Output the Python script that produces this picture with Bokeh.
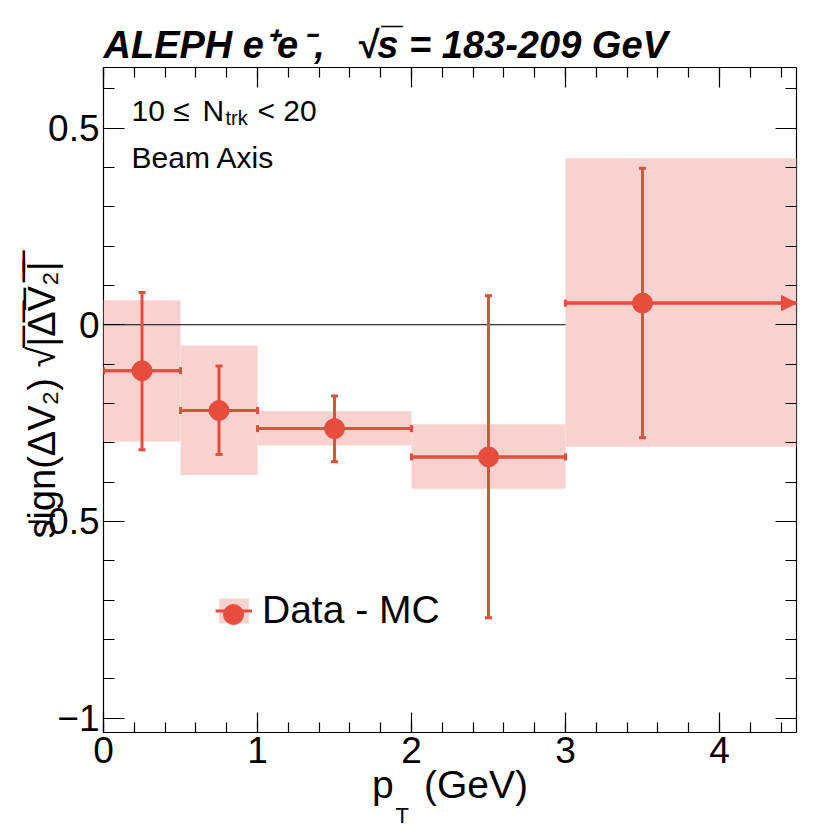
import numpy as np
from bokeh.plotting import figure
from bokeh.models import (ColumnDataSource, Whisker, TeeHead, NormalHead, Label, Title,
                          FixedTicker, Range1d, LinearAxis, Legend, LegendItem)
from bokeh.embed import file_html
from bokeh.resources import INLINE

# ---------------- data ----------------
bin_lo = [0.0, 0.5, 1.0, 2.0, 3.0]
bin_hi = [0.5, 1.0, 2.0, 3.0, 4.5]
pt_center = [0.25, 0.75, 1.5, 2.5, 3.5]
dv2 = [-0.117, -0.218, -0.264, -0.336, 0.055]
stat_hi = [0.082, -0.105, -0.181, 0.074, 0.398]
stat_lo = [-0.318, -0.330, -0.348, -0.745, -0.287]
sys_hi = [0.062, -0.053, -0.220, -0.253, 0.423]
sys_lo = [-0.297, -0.382, -0.307, -0.417, -0.310]

x_ticks = [0, 1, 2, 3, 4]
x_tick_labels = ["0", "1", "2", "3", "4"]
y_ticks = [-1.0, -0.5, 0.0, 0.5]
y_tick_labels = ["\u22121", "\u22120.5", "0", "0.5"]
x_minor = [round(0.2 * i, 1) for i in range(23)]
y_minor = [round(-1.0 + 0.1 * i, 1) for i in range(17)]

ref_line_x = [0.0, 3.0]
ref_line_y = [0.0, 0.0]

RED = "#E74C3C"
PINK = "#F8D2CE"
FONT = "Liberation Sans"

# ---------------- geometry (page pixels) ----------------
FL, FR, FT, FB = 103.0, 796.0, 67.0, 732.0
X0, X1 = 0.0, 4.5
Y0, Y1 = -1.0366, 0.654


def xd(px):
    return X0 + (px - FL) / (FR - FL) * (X1 - X0)


def yd(py):
    return Y1 - (py - FT) / (FB - FT) * (Y1 - Y0)


p = figure(frame_width=int(FR - FL), frame_height=int(FB - FT),
           x_range=Range1d(X0, X1), y_range=Range1d(Y0, Y1),
           output_backend="svg", toolbar_location=None,
           min_border_left=103, min_border_right=30, min_border_top=67, min_border_bottom=96)
p.xgrid.visible = False
p.ygrid.visible = False
p.outline_line_color = "black"
p.outline_line_width = 1.2
p.background_fill_color = "white"
p.border_fill_color = "white"

# main title
p.title.text = ("ALEPH e\u207ae\u200a\u207b,\u00a0\u00a0\u00a0"
                "\u221as\u0305 = 183-209 GeV")
p.title.align = "left"
p.title.text_font = FONT
p.title.text_font_size = "38px"
p.title.text_font_style = "bold italic"
p.title.text_color = "black"
p.title.standoff = 3


def style_axis(ax, ticks, minor, labels, major_len, minor_len, standoff):
    ax.ticker = FixedTicker(ticks=ticks, minor_ticks=minor)
    ax.axis_line_color = None
    ax.major_tick_in = major_len
    ax.major_tick_out = 0
    ax.minor_tick_in = minor_len
    ax.minor_tick_out = 0
    ax.major_tick_line_color = "black"
    ax.minor_tick_line_color = "black"
    ax.major_tick_line_width = 1.2
    ax.minor_tick_line_width = 1.2
    if labels is None:
        ax.major_label_overrides = {t: "" for t in ticks}
        ax.major_label_text_font_size = "1px"
        ax.major_label_standoff = 0
    else:
        ax.major_label_overrides = {t: l for t, l in zip(ticks, labels)}
        ax.major_label_text_font = FONT
        ax.major_label_text_font_size = "37px"
        ax.major_label_text_color = "black"
        ax.major_label_standoff = standoff


style_axis(p.xaxis[0], x_ticks, x_minor, x_tick_labels, 20, 10, 4)
style_axis(p.yaxis[0], y_ticks, y_minor, y_tick_labels, 21, 11, 4)

# x axis title: "p_T (GeV)" -- the subscript T goes in a title just below
p.xaxis[0].axis_label = "p\u2002 (GeV)"
p.xaxis[0].axis_label_text_font = FONT
p.xaxis[0].axis_label_text_font_size = "39px"
p.xaxis[0].axis_label_text_font_style = "normal"
p.xaxis[0].axis_label_text_color = "black"
p.xaxis[0].axis_label_standoff = -3

# y axis title
p.yaxis[0].axis_label = "sign(\u0394V\u2082) \u221a|\u0305\u0394\u0305V\u0305\u2082\u0305|\u0305"
p.yaxis[0].axis_label_text_font = FONT
p.yaxis[0].axis_label_text_font_size = "38px"
p.yaxis[0].axis_label_text_font_style = "normal"
p.yaxis[0].axis_label_text_color = "black"
p.yaxis[0].axis_label_standoff = -40

top_ax = LinearAxis()
style_axis(top_ax, x_ticks, x_minor, None, 20, 10, 0)
p.add_layout(top_ax, "above")
right_ax = LinearAxis()
style_axis(right_ax, y_ticks, y_minor, None, 21, 11, 0)
p.add_layout(right_ax, "right")

sub_t = Title(text="T", align="left", offset=292, standoff=-16,
              text_font=FONT, text_font_size="22px", text_font_style="normal",
              text_color="black")
p.add_layout(sub_t, "below")

src = ColumnDataSource(dict(x=pt_center, y=dv2, lo=stat_lo, hi=stat_hi,
                            blo=bin_lo, bhi=bin_hi, slo=sys_lo, shi=sys_hi))
src_h = ColumnDataSource(dict(y=dv2[:-1], blo=bin_lo[:-1], bhi=bin_hi[:-1]))
src_h_last = ColumnDataSource(dict(y=dv2[-1:], blo=bin_lo[-1:], bhi=bin_hi[-1:]))

boxes = p.quad(left="blo", right="bhi", bottom="slo", top="shi", source=src,
               fill_color=PINK, line_color=None)
p.line(x=ref_line_x, y=ref_line_y, line_color="black", line_width=1.2)
hbars = p.segment(x0="blo", y0="y", x1="bhi", y1="y", source=src,
                  line_color=RED, line_width=3)


def tee():
    return TeeHead(size=7, line_color=RED, line_width=3)


w1 = Whisker(source=src, base="x", lower="lo", upper="hi", dimension="height",
             line_color=RED, line_width=3, lower_head=tee(), upper_head=tee(), level="annotation")
w2 = Whisker(source=src_h, base="y", lower="blo", upper="bhi", dimension="width",
             line_color=RED, line_width=3, lower_head=tee(), upper_head=tee(), level="annotation")
w3 = Whisker(source=src_h_last, base="y", lower="blo", upper="bhi", dimension="width",
             line_color=RED, line_width=3, lower_head=tee(),
             upper_head=NormalHead(size=15, fill_color=RED, line_color=RED, line_width=1),
             level="annotation")
for w in (w1, w2, w3):
    p.add_layout(w)
pts = p.scatter(x="x", y="y", source=src, size=20, fill_color=RED, line_color=RED)
pts.level = "overlay"

# legend: box + bar key with the label ...
legend = Legend(items=[LegendItem(label="Data - MC", renderers=[boxes, hbars])],
                location=(112, 100), padding=0, margin=0, spacing=0,
                glyph_width=37, glyph_height=31, label_standoff=10,
                label_text_font=FONT, label_text_font_size="39px", label_text_color="black",
                border_line_color=None, background_fill_alpha=0)
p.add_layout(legend)
# ... and a larger marker key centred on the same spot
legend_marker = Legend(items=[LegendItem(label=" ", renderers=[pts])],
                       location=(105, 93), padding=0, margin=0, spacing=0,
                       glyph_width=50, glyph_height=50, label_standoff=0,
                       label_text_font=FONT, label_text_font_size="1px",
                       label_height=1, label_width=1,
                       border_line_color=None, background_fill_alpha=0)
p.add_layout(legend_marker)


def lab(px, py, text, size):
    p.add_layout(Label(x=xd(px), y=yd(py), text=text, text_font=FONT,
                       text_font_size=f"{size}px", text_color="black",
                       text_align="left", text_baseline="alphabetic"))


# info texts (inside the frame)
lab(131, 110, "10 \u2264", 30)
lab(202, 110, "N", 30)
lab(225, 117, "trk", 20)
lab(257, 110, "< 20", 30)
lab(131, 157, "Beam Axis", 30)

open("out.html", "w").write(file_html(p, INLINE))
